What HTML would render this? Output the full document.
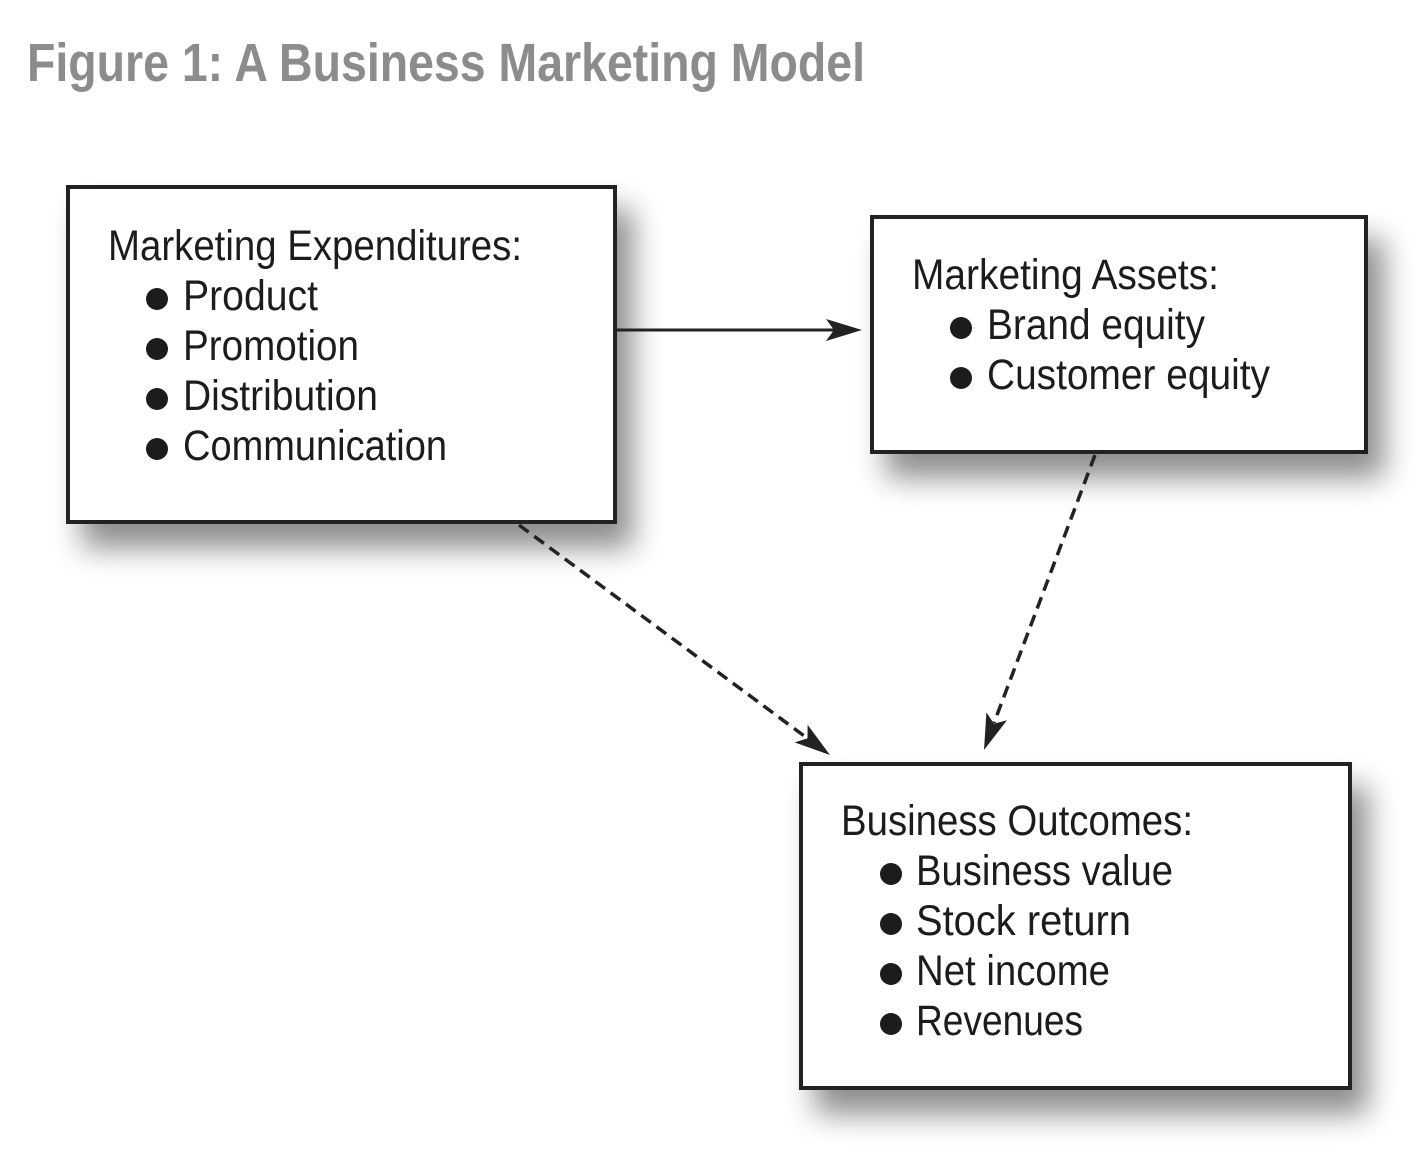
<!DOCTYPE html>
<html>
<head>
<meta charset="utf-8">
<style>
  html, body { margin: 0; padding: 0; background: #ffffff; }
  body { width: 1421px; height: 1155px; overflow: hidden; }
  svg { display: block; }
  .t { font-family: "Liberation Sans", sans-serif; font-size: 43px; fill: #1c1c1c; }
</style>
</head>
<body>
<svg width="1421" height="1155" viewBox="0 0 1421 1155" xmlns="http://www.w3.org/2000/svg">
  <defs>
    <filter id="sh" x="-20%" y="-20%" width="160%" height="170%">
      <feGaussianBlur in="SourceAlpha" stdDeviation="15"/>
      <feOffset dx="16" dy="24" result="b"/>
      <feComponentTransfer in="b" result="c">
        <feFuncA type="linear" slope="0.45"/>
      </feComponentTransfer>
      <feMerge>
        <feMergeNode in="c"/>
        <feMergeNode in="SourceGraphic"/>
      </feMerge>
    </filter>
  </defs>

  <!-- Title -->
  <text x="27" y="81" font-family="Liberation Sans, sans-serif" font-weight="bold" font-size="54" fill="#8c8c8c" textLength="838" lengthAdjust="spacingAndGlyphs">Figure 1: A Business Marketing Model</text>

  <!-- Boxes -->
  <rect x="68" y="187" width="547" height="335" fill="#fff" stroke="#222" stroke-width="4" filter="url(#sh)"/>
  <rect x="872" y="217" width="494" height="235" fill="#fff" stroke="#222" stroke-width="4" filter="url(#sh)"/>
  <rect x="801" y="764" width="549" height="324" fill="#fff" stroke="#222" stroke-width="4" filter="url(#sh)"/>

  <!-- Box 1 text -->
  <text class="t" x="108" y="260" textLength="414" lengthAdjust="spacingAndGlyphs">Marketing Expenditures:</text>
  <circle cx="157" cy="299" r="11" fill="#1c1c1c"/>
  <text class="t" x="183" y="310" textLength="135" lengthAdjust="spacingAndGlyphs">Product</text>
  <circle cx="157" cy="349" r="11" fill="#1c1c1c"/>
  <text class="t" x="183" y="360" textLength="176" lengthAdjust="spacingAndGlyphs">Promotion</text>
  <circle cx="157" cy="399" r="11" fill="#1c1c1c"/>
  <text class="t" x="183" y="410" textLength="195" lengthAdjust="spacingAndGlyphs">Distribution</text>
  <circle cx="157" cy="449" r="11" fill="#1c1c1c"/>
  <text class="t" x="183" y="460" textLength="264" lengthAdjust="spacingAndGlyphs">Communication</text>

  <!-- Box 2 text -->
  <text class="t" x="912" y="289" textLength="307" lengthAdjust="spacingAndGlyphs">Marketing Assets:</text>
  <circle cx="961" cy="328" r="11" fill="#1c1c1c"/>
  <text class="t" x="987" y="339" textLength="218" lengthAdjust="spacingAndGlyphs">Brand equity</text>
  <circle cx="961" cy="378" r="11" fill="#1c1c1c"/>
  <text class="t" x="987" y="389" textLength="283" lengthAdjust="spacingAndGlyphs">Customer equity</text>

  <!-- Box 3 text -->
  <text class="t" x="841" y="835" textLength="352" lengthAdjust="spacingAndGlyphs">Business Outcomes:</text>
  <circle cx="891" cy="874" r="11" fill="#1c1c1c"/>
  <text class="t" x="916" y="885" textLength="257" lengthAdjust="spacingAndGlyphs">Business value</text>
  <circle cx="891" cy="924" r="11" fill="#1c1c1c"/>
  <text class="t" x="916" y="935" textLength="215" lengthAdjust="spacingAndGlyphs">Stock return</text>
  <circle cx="891" cy="974" r="11" fill="#1c1c1c"/>
  <text class="t" x="916" y="985" textLength="194" lengthAdjust="spacingAndGlyphs">Net income</text>
  <circle cx="891" cy="1024" r="11" fill="#1c1c1c"/>
  <text class="t" x="916" y="1035" textLength="167" lengthAdjust="spacingAndGlyphs">Revenues</text>

  <!-- Arrow 1: solid horizontal -->
  <line x1="617" y1="330" x2="836" y2="330" stroke="#222" stroke-width="3"/>
  <polygon points="862,330 826,319 834,330 826,341" fill="#222"/>

  <!-- Arrow 2: dashed from box1 to box3 -->
  <line x1="519" y1="525" x2="807" y2="738" stroke="#222" stroke-width="3.5" stroke-dasharray="12,7"/>
  <polygon points="830,755 807.6,724.8 807.5,738.4 794.6,742.4" fill="#222"/>

  <!-- Arrow 3: dashed from box2 to box3 -->
  <line x1="1095" y1="455" x2="994" y2="723" stroke="#222" stroke-width="3.5" stroke-dasharray="12,7"/>
  <polygon points="984,750 986.4,712.4 993.9,723.8 1007,720.2" fill="#222"/>
</svg>
</body>
</html>
